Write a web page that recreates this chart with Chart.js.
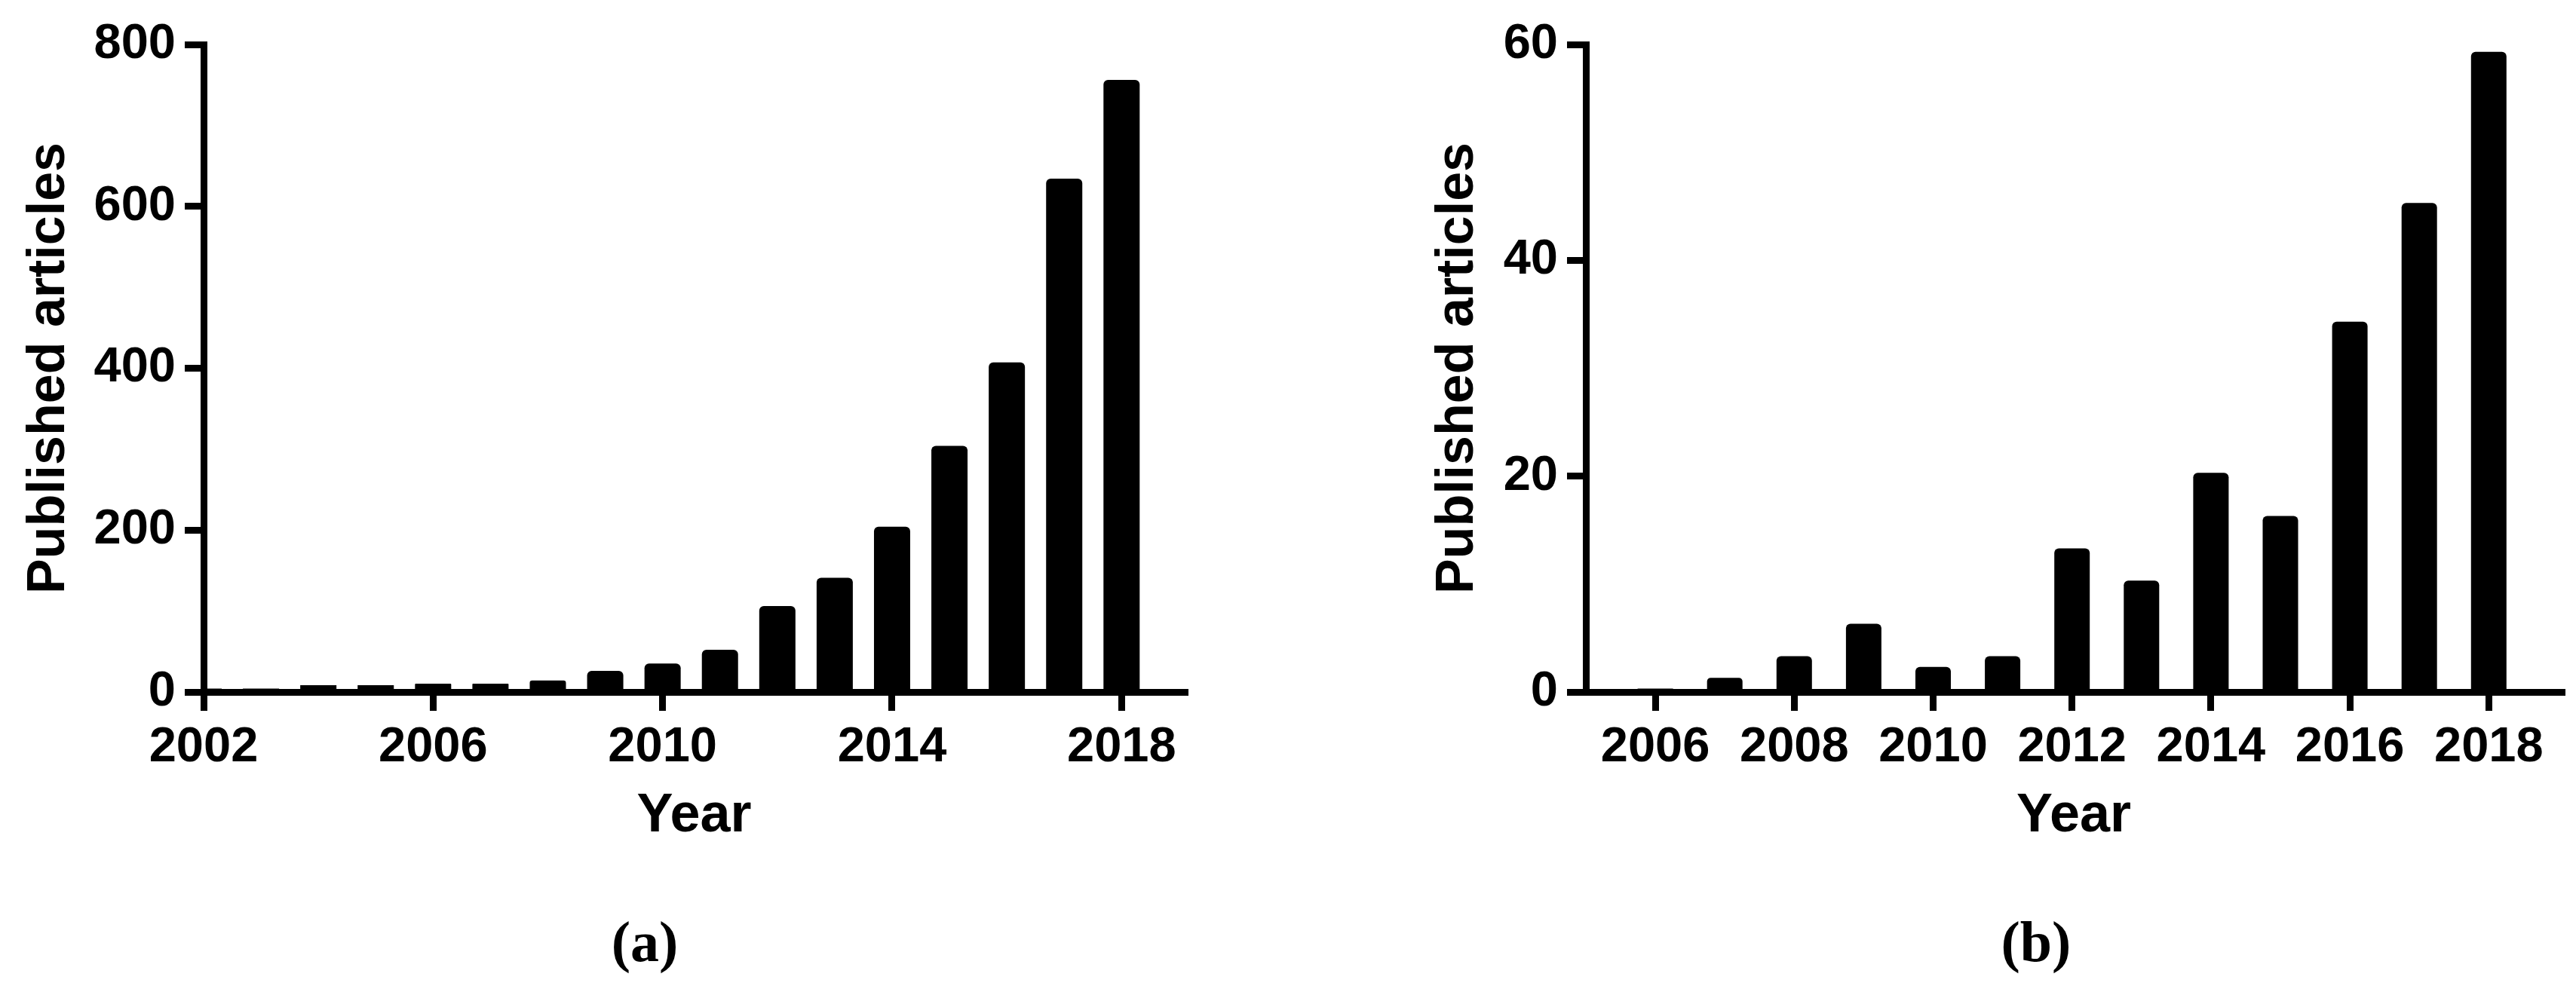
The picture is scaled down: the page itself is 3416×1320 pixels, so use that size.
<!DOCTYPE html>
<html>
<head>
<meta charset="utf-8">
<script src="https://cdn.jsdelivr.net/npm/chart.js@4"></script>
<style>
    body { margin: 0; background: #fff; width: 3416px; height: 1320px; position: relative; overflow: hidden; }
    .panel { position: absolute; top: 0; height: 1150px; }
    #panel-a { left: 0; width: 1700px; }
    #panel-b { left: 1870px; width: 1546px; }
    .caption {
        position: absolute; top: 1211px; width: 400px; text-align: center;
        font-family: 'Liberation Serif', 'Times New Roman', serif; font-weight: bold;
        font-size: 76px; line-height: 76px; color: #000;
    }
</style>
</head>
<body>
<div class="panel" id="panel-a"><canvas id="chart-a"></canvas></div>
<div class="panel" id="panel-b"><canvas id="chart-b"></canvas></div>
<div class="caption" style="left: 655px;">(a)</div>
<div class="caption" style="left: 2500px;">(b)</div>
<script>
// (a) all published articles per year
const yearsA = [2002, 2003, 2004, 2005, 2006, 2007, 2008, 2009, 2010, 2011, 2012, 2013, 2014, 2015, 2016, 2017, 2018];
const articlesA = [0, 0, 2, 2, 6, 6, 10, 22, 31, 48, 102, 137, 200, 300, 403, 630, 752];
const xTicksA = [2002, 2006, 2010, 2014, 2018];
const yTicksA = [0, 200, 400, 600, 800];

// (b) subset per year
const yearsB = [2006, 2007, 2008, 2009, 2010, 2011, 2012, 2013, 2014, 2015, 2016, 2017, 2018];
const articlesB = [0, 1, 3, 6, 2, 3, 13, 10, 20, 16, 34, 45, 59];
const xTicksB = [2006, 2008, 2010, 2012, 2014, 2016, 2018];
const yTicksB = [0, 20, 40, 60];

const sans = "'Liberation Sans', Arial, sans-serif";
const tickFont = { family: sans, size: 65, weight: 'bold' };
const titleFont = { family: sans, size: 72, weight: 'bold' };

Chart.defaults.devicePixelRatio = 1;

function axisLines() {
    return {
        offset: false,
        grid: {
            offset: false,
            drawOnChartArea: false,
            drawTicks: true,
            tickLength: 25,
            tickWidth: 9,
            tickColor: '#000',
            lineWidth: 9,
            color: '#000'
        },
        border: { display: true, width: 9, color: '#000' }
    };
}

function makeChart(id, cfg) {
    const points = cfg.years.map((y, i) => ({ x: y, y: cfg.values[i] }));
    return new Chart(document.getElementById(id), {
        type: 'bar',
        data: {
            datasets: [{
                data: points,
                backgroundColor: '#000',
                barThickness: cfg.barWidth,
                inflateAmount: 4.5,
                borderRadius: 6
            }]
        },
        options: {
            responsive: true,
            maintainAspectRatio: false,
            animation: false,
            events: [],
            layout: { padding: { top: 59, left: 0, right: cfg.padRight, bottom: 0 } },
            plugins: { legend: { display: false }, tooltip: { enabled: false } },
            scales: {
                x: Object.assign({
                    type: 'linear',
                    min: cfg.xMin,
                    max: cfg.xMax,
                    afterBuildTicks: axis => { axis.ticks = cfg.xTicks.map(v => ({ value: v })); },
                    afterFit: axis => { axis.height = 232; },
                    ticks: {
                        font: tickFont, color: '#000', padding: 10, maxRotation: 0, autoSkip: false,
                        callback: v => String(v)
                    },
                    title: {
                        display: true, text: 'Year', font: titleFont, color: '#000',
                        padding: { top: 0, bottom: 24 }
                    }
                }, axisLines()),
                y: Object.assign({
                    type: 'linear',
                    min: 0,
                    max: cfg.yMax,
                    afterBuildTicks: axis => { axis.ticks = cfg.yTicks.map(v => ({ value: v })); },
                    afterFit: axis => { axis.width = cfg.yAxisWidth; },
                    ticks: { font: tickFont, color: '#000', padding: 12, callback: v => String(v) },
                    title: {
                        display: true, text: 'Published articles',
                        font: { family: sans, size: 70, weight: 'bold' }, color: '#000',
                        padding: { top: cfg.titlePad, bottom: 0 }
                    }
                }, axisLines())
            }
        }
    });
}

makeChart('chart-a', {
    years: yearsA, values: articlesA, xTicks: xTicksA, yTicks: yTicksA,
    xMin: 2002, xMax: 2019.1, yMax: 800,
    barWidth: 39, padRight: 129, yAxisWidth: 270, titlePad: 24
});

makeChart('chart-b', {
    years: yearsB, values: articlesB, xTicks: xTicksB, yTicks: yTicksB,
    xMin: 2005, xMax: 2019.05, yMax: 60,
    barWidth: 38, padRight: 19, yAxisWidth: 233, titlePad: 22
});
</script>
</body>
</html>
